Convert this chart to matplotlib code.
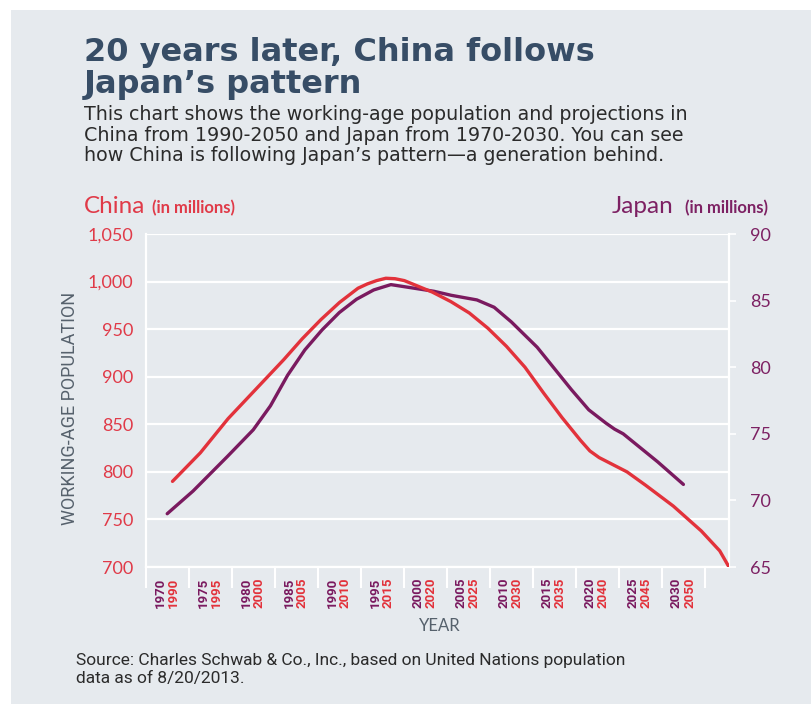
import matplotlib
matplotlib.use("Agg")
import matplotlib.pyplot as plt
from matplotlib.patches import Rectangle
from matplotlib import transforms

# China working-age population (millions)
china_years = [1990, 1993, 1996, 1999, 2002, 2004, 2006, 2008, 2010, 2011, 2012, 2013,
               2014, 2015, 2016, 2018, 2020, 2022, 2024, 2026, 2028, 2030, 2032, 2034,
               2035, 2036, 2037, 2039, 2041, 2044, 2047, 2049, 2050]
china_pop = [790, 820, 856, 887, 918, 940, 960, 978, 993, 997.5, 1001, 1003.5,
             1003, 1001, 997, 989, 979, 967, 951, 932, 910, 883, 857, 833,
             822, 815, 810, 800, 786, 764, 738, 717, 700]

# Japan working-age population (millions)
japan_years = [1970, 1973, 1977, 1980, 1982, 1984, 1986, 1988, 1990, 1992, 1994, 1996,
               1997, 1998, 2001, 2003, 2006, 2008, 2010, 2013, 2015, 2017, 2019, 2021,
               2022, 2023, 2025, 2027, 2030]
japan_pop = [69.0, 70.7, 73.3, 75.3, 77.1, 79.4, 81.3, 82.8, 84.1, 85.1, 85.8, 86.2,
             86.1, 86.0, 85.7, 85.4, 85.05, 84.5, 83.4, 81.5, 79.9, 78.3, 76.8, 75.8,
             75.35, 75.0, 73.95, 72.9, 71.2]

japan_ticks = list(range(1970, 2031, 5))
china_ticks = list(range(1990, 2051, 5))
china_yticks = list(range(700, 1051, 50))
japan_yticks = list(range(65, 91, 5))

BG = "#e6eaee"
RED = "#e2323b"
PURPLE = "#7a1a5f"
RED_TXT = "#e03a48"
PURPLE_TXT = "#7d2163"
TITLE = "#374d66"
BODY = "#2b2b2b"
GRAY = "#56616c"

W, H = 811, 704
fig = plt.figure(figsize=(W / 100, H / 100), dpi=100)
fig.patch.set_facecolor("white")
fig.patches.append(Rectangle((11 / W, 0), 1 - 11 / W, 1 - 10 / H, transform=fig.transFigure,
                             facecolor=BG, edgecolor="none", zorder=-5))


def fx(x):
    return x / W


def fy(y):
    return 1 - y / H


# main axes: x in Japan years, left y for China
ax = fig.add_axes([fx(145.7), fy(567), (729 - 145.7) / W, (567 - 234) / H])
ax.set_facecolor("none")
ax.set_xlim(1967.5, 2035.3)
ax.set_ylim(700, 1050)
ax.set_yticks(china_yticks)
ax.set_yticklabels([f"{v:,}" for v in china_yticks], family="Lato", fontsize=13, color=RED_TXT)
ax.tick_params(axis="y", length=0, pad=9)
ax.yaxis.grid(True, color="white", lw=1.6)
ax.set_axisbelow(True)
ax.set_xticks([1967.5 + 5 * k for k in range(14)])
ax.tick_params(axis="x", direction="out", length=15, width=1.5, color="white", labelbottom=False)
ax.spines["top"].set_visible(False)
for s in ["left", "right", "bottom"]:
    ax.spines[s].set_color("white")
    ax.spines[s].set_linewidth(1.6)

# right y for Japan
axj = ax.twinx()
axj.set_ylim(65, 90)
axj.set_yticks(japan_yticks)
axj.set_yticklabels([str(v) for v in japan_yticks], family="Lato", fontsize=13, color=PURPLE_TXT)
axj.tick_params(axis="y", direction="out", length=5, width=1.2, color="white", pad=10)
for s in axj.spines.values():
    s.set_visible(False)
axj.plot(japan_years, japan_pop, color=PURPLE, lw=2.4, solid_capstyle="round",
         solid_joinstyle="round")

# China drawn on its own x scale (the source chart stretches it to the right edge)
axc = ax.twiny()
axc.set_xlim(1987.11, 2050)
axc.set_xticks([])
for s in axc.spines.values():
    s.set_visible(False)
axc.plot(china_years, china_pop, color=RED, lw=2.4, solid_capstyle="round",
         solid_joinstyle="round")

# paired year labels under the axis
base = transforms.blended_transform_factory(ax.transData, ax.transAxes)
for jy, cy in zip(japan_ticks, china_ticks):
    ax.text(jy, -0.033, str(jy), transform=transforms.offset_copy(base, fig, x=-5.0, units="points"),
            rotation=90, ha="center", va="top", color=PURPLE, fontsize=9.5, fontweight="bold",
            family="Roboto")
    ax.text(jy, -0.033, str(cy), transform=transforms.offset_copy(base, fig, x=4.4, units="points"),
            rotation=90, ha="center", va="top", color=RED, fontsize=9.5, fontweight="bold",
            family="Roboto")

fig.text(fx(440), fy(626), "YEAR", ha="center", va="center", color=GRAY, fontsize=12, family="Lato")
fig.text(fx(70), fy(408), "WORKING-AGE POPULATION", rotation=90, ha="center", va="center",
         color=GRAY, fontsize=13, family=["Liberation Sans Narrow", "Roboto"])

# series headers
fig.text(fx(84), fy(213), "China", color=RED_TXT, fontsize=17.5, family="Lato", va="baseline")
fig.text(fx(152), fy(213), "(in millions)", color=RED_TXT, fontsize=12, fontweight="bold",
         family="Lato", va="baseline")
fig.text(fx(673), fy(213), "Japan", color=PURPLE_TXT, fontsize=17.5, family="Lato",
         va="baseline", ha="right")
fig.text(fx(768), fy(213), "(in millions)", color=PURPLE_TXT, fontsize=12, fontweight="bold",
         family="Lato", va="baseline", ha="right")

# title and subtitle
fig.text(fx(84), fy(61), "20 years later, China follows", color=TITLE, fontsize=23,
         fontweight="bold", family="DejaVu Sans", va="baseline")
fig.text(fx(84), fy(93), "Japan\u2019s pattern", color=TITLE, fontsize=23,
         fontweight="bold", family="DejaVu Sans", va="baseline")
sub = ["This chart shows the working-age population and projections in",
       "China from 1990-2050 and Japan from 1970-2030. You can see",
       "how China is following Japan\u2019s pattern\u2014a generation behind."]
for i, line in enumerate(sub):
    fig.text(fx(84), fy(120 + 20.7 * i), line, color=BODY, fontsize=13.7, family="DejaVu Sans",
             va="baseline")

fig.text(fx(76), fy(665), "Source: Charles Schwab & Co., Inc., based on United Nations population",
         color=BODY, fontsize=12.5, family="Roboto", va="baseline")
fig.text(fx(76), fy(683), "data as of 8/20/2013.", color=BODY, fontsize=12.5, family="Roboto",
         va="baseline")

fig.savefig("out.png", dpi=100, facecolor=fig.get_facecolor())
